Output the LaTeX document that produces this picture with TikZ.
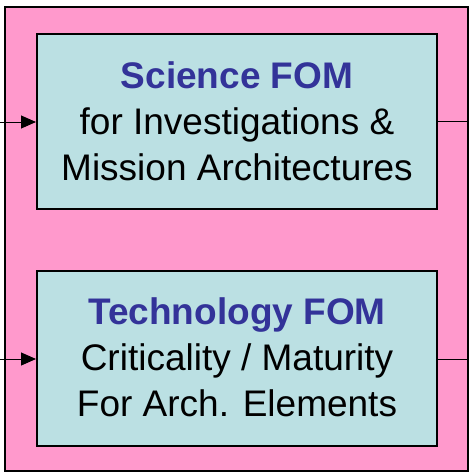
\documentclass[tikz,border=0pt]{standalone}
\usepackage{fontspec}
\setmainfont{Liberation Sans}
\usetikzlibrary{arrows.meta}
\definecolor{pinkbg}{HTML}{FF99CC}
\definecolor{boxfill}{HTML}{BBE0E3}
\definecolor{titleblue}{HTML}{333399}
\tikzset{
  fombox/.style={draw=black, line width=2pt, fill=boxfill},
  fomtext/.style={align=center, inner sep=0pt, font=\fontsize{37}{46}\selectfont},
  inarrow/.style={line width=1pt, -{Triangle[length=15pt,width=13pt]}},
  outline/.style={line width=1pt}
}
\begin{document}
\begin{tikzpicture}[x=1pt,y=-1pt]
\useasboundingbox (0,0) rectangle (469,472);
\fill[white] (0,0) rectangle (469,472);
\draw[fill=pinkbg, line width=2pt] (5,7) rectangle (468,471);
\node[fombox, minimum width=400pt, minimum height=175pt, inner sep=0pt] (sci) at (237,121.5) {};
\node[fombox, minimum width=400pt, minimum height=175pt, inner sep=0pt] (tech) at (237,358.5) {};
\node[fomtext] (scitext) at (237,121) {\textbf{\color{titleblue}Science FOM}\\for Investigations \&\\Mission Architectures};
\node[fomtext] (techtext) at (237,357.5) {\textbf{\color{titleblue}Technology FOM}\\Criticality / Maturity\\For Arch. Elements};
\coordinate (inA) at (0,122);
\coordinate (outA) at (469,121);
\coordinate (inB) at (0,359);
\coordinate (outB) at (469,359);
\draw[inarrow] (inA) -- (inA -| sci.west);
\draw[outline] (outA -| sci.east) -- (outA);
\draw[inarrow] (inB) -- (inB -| tech.west);
\draw[outline] (outB -| tech.east) -- (outB);
\end{tikzpicture}
\end{document}
